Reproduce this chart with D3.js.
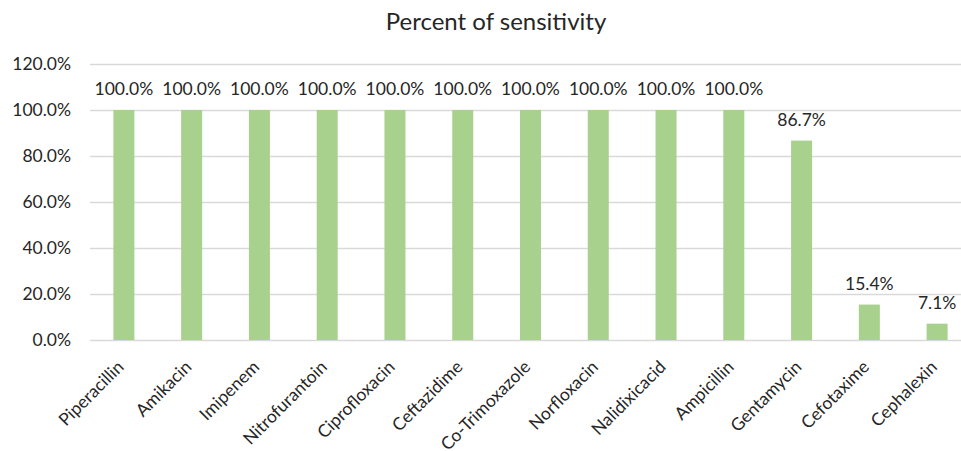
<!DOCTYPE html>
<html>
<head>
<meta charset="utf-8">
<script src="https://cdn.jsdelivr.net/npm/d3@7"></script>
<style>
  html, body { margin: 0; padding: 0; background: #fff; }
  svg { display: block; }
  text { font-family: Lato, "Open Sans", sans-serif; fill: #262626; }
</style>
</head>
<body>
<svg id="chart" width="961" height="451"></svg>
<script>
// Antibiotic sensitivity, percent of isolates
const drugs = ["Piperacillin", "Amikacin", "Imipenem", "Nitrofurantoin", "Ciprofloxacin",
  "Ceftazidime", "Co-Trimoxazole", "Norfloxacin", "Nalidixicacid", "Ampicillin",
  "Gentamycin", "Cefotaxime", "Cephalexin"];
const sensitivity = [100, 100, 100, 100, 100, 100, 100, 100, 100, 100, 86.7, 15.4, 7.1];
const yTicks = [0, 20, 40, 60, 80, 100, 120];
const title = "Percent of sensitivity";

const svg = d3.select("#chart");
const plotLeft = 90, plotRight = 971, plotTop = 64, plotBottom = 340;

const x = d3.scaleBand().domain(drugs).range([plotLeft, plotRight]).paddingInner(0.69).paddingOuter(0.345);
const y = d3.scaleLinear().domain([0, 120]).range([plotBottom, plotTop]);
const fmt = v => v.toFixed(1) + "%";

svg.append("text")
  .attr("x", 496).attr("y", 30)
  .attr("text-anchor", "middle")
  .attr("font-size", 24)
  .text(title);

// gridlines
svg.append("g").selectAll("line").data(yTicks).join("line")
  .attr("x1", plotLeft).attr("x2", plotRight)
  .attr("y1", d => y(d) + 0.5).attr("y2", d => y(d) + 0.5)
  .attr("stroke", "#d9d9d9").attr("stroke-width", 1.3);

// y axis labels
const yAxis = d3.axisLeft(y).tickValues(yTicks).tickFormat(fmt).tickSize(0).tickPadding(19);
svg.append("g").attr("transform", `translate(${plotLeft},0)`).call(yAxis)
  .call(g => g.select(".domain").remove())
  .selectAll("text")
  .attr("font-size", 17.5)
  .attr("font-family", "Lato, 'Open Sans', sans-serif")
  .attr("fill", "#262626");

// bars
svg.append("g").selectAll("rect").data(drugs).join("rect")
  .attr("x", d => x(d))
  .attr("width", x.bandwidth())
  .attr("y", (d, i) => y(sensitivity[i]))
  .attr("height", (d, i) => y(0) - y(sensitivity[i]))
  .attr("fill", "#a9d18e");

// value labels
svg.append("g").selectAll("text").data(drugs).join("text")
  .attr("x", d => x(d) + x.bandwidth() / 2)
  .attr("y", (d, i) => y(sensitivity[i]) - 15)
  .attr("text-anchor", "middle")
  .attr("font-size", 17.5)
  .text((d, i) => fmt(sensitivity[i]));

// x axis (rotated category labels)
const xAxis = d3.axisBottom(x).tickSize(0).tickPadding(0);
svg.append("g").attr("transform", `translate(0,${plotBottom})`).call(xAxis)
  .call(g => g.select(".domain").remove())
  .selectAll("text")
  .attr("font-size", 17.5)
  .attr("font-family", "Lato, 'Open Sans', sans-serif")
  .attr("fill", "#262626")
  .attr("text-anchor", "end")
  .attr("dy", 0)
  .attr("transform", "translate(1,28) rotate(-45)");
</script>
</body>
</html>
